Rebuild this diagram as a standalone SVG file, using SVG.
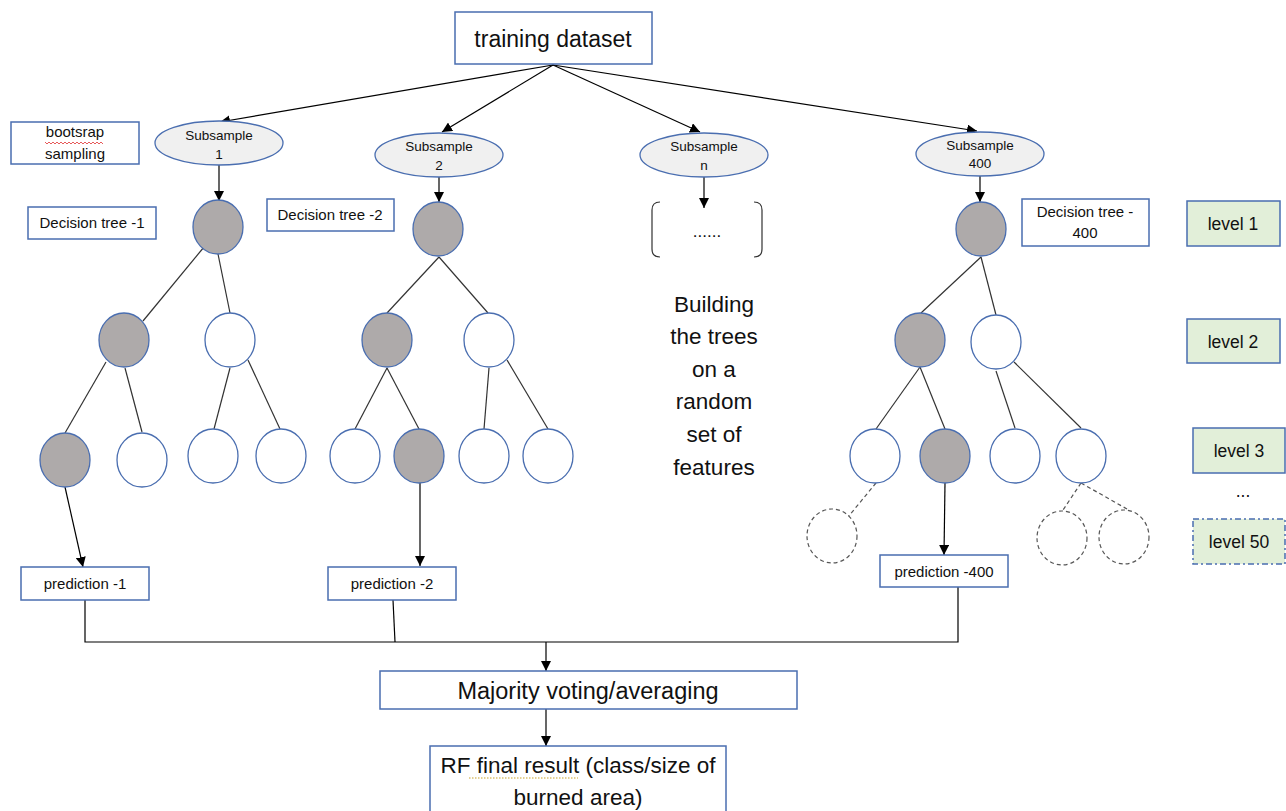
<svg xmlns="http://www.w3.org/2000/svg" width="1286" height="811" viewBox="0 0 1286 811">
<defs>
<marker id="ah" viewBox="0 0 10 10" refX="10" refY="5" markerWidth="10" markerHeight="10" markerUnits="userSpaceOnUse" orient="auto">
<path d="M0,0 L10,5 L0,10 z" fill="#000"/>
</marker>
<style>
.box{fill:#fff;stroke:#4a6eb0;stroke-width:1.5}
.lvl{fill:#e2efd9;stroke:#4a6eb0;stroke-width:1.5}
.sub{fill:#f0f0f0;stroke:#4a6eb0;stroke-width:1.3}
.g{fill:#aeaaaa;stroke:#4a6eb0;stroke-width:1.3}
.w{fill:#fff;stroke:#4a6eb0;stroke-width:1.3}
.d{fill:#fff;stroke:#555;stroke-width:1.2;stroke-dasharray:4 3}
.e{stroke:#333;stroke-width:1.2;fill:none}
.ed{stroke:#555;stroke-width:1.2;fill:none;stroke-dasharray:4 3}
.a{stroke:#000;stroke-width:1.2;fill:none;marker-end:url(#ah)}
.l{stroke:#000;stroke-width:1.2;fill:none}
text{font-family:"Liberation Sans",Arial,sans-serif;fill:#111;text-anchor:middle}
.t13{font-size:13.5px}.t15{font-size:15px}.t17{font-size:17.5px}.t22{font-size:22.5px}
</style>
</defs>

<g id="connectors">
<line class="a" x1="553" y1="65" x2="220" y2="122"/>
<line class="a" x1="553" y1="65" x2="442" y2="132"/>
<line class="a" x1="553" y1="65" x2="700" y2="132"/>
<line class="a" x1="553" y1="65" x2="977" y2="131"/>
<line class="a" x1="219" y1="165" x2="219" y2="201"/>
<line class="a" x1="439" y1="177" x2="439" y2="202"/>
<line class="a" x1="704" y1="177" x2="704" y2="208"/>
<line class="a" x1="980" y1="176" x2="980" y2="202"/>
<!-- tree 1 -->
<line class="e" x1="204" y1="247" x2="143" y2="321"/>
<line class="e" x1="218" y1="254" x2="230" y2="313"/>
<line class="e" x1="106" y1="362" x2="65" y2="433"/>
<line class="e" x1="125" y1="368" x2="142" y2="432"/>
<line class="e" x1="230" y1="368" x2="214" y2="429"/>
<line class="e" x1="248" y1="360" x2="280" y2="429"/>
<line class="a" x1="65" y1="487" x2="83" y2="567"/>
<!-- tree 2 -->
<line class="e" x1="439" y1="257" x2="387" y2="313"/>
<line class="e" x1="439" y1="257" x2="488" y2="313"/>
<line class="e" x1="387" y1="368" x2="355" y2="429"/>
<line class="e" x1="387" y1="368" x2="419" y2="429"/>
<line class="e" x1="489" y1="368" x2="484" y2="429"/>
<line class="e" x1="507" y1="360" x2="548" y2="429"/>
<line class="a" x1="420" y1="483" x2="420" y2="566"/>
<!-- tree 400 -->
<line class="e" x1="981" y1="257" x2="921" y2="313"/>
<line class="e" x1="981" y1="257" x2="996" y2="315"/>
<line class="e" x1="920" y1="367" x2="876" y2="429"/>
<line class="e" x1="920" y1="367" x2="945" y2="429"/>
<line class="e" x1="996" y1="371" x2="1015" y2="428"/>
<line class="e" x1="1014" y1="362" x2="1081" y2="428"/>
<line class="ed" x1="876" y1="483" x2="848" y2="517"/>
<line class="ed" x1="1081" y1="483" x2="1063" y2="510"/>
<line class="ed" x1="1081" y1="483" x2="1127" y2="509"/>
<line class="a" x1="945" y1="483" x2="944" y2="555"/>
<!-- aggregation -->
<polyline class="l" points="85,600 85,642 958,642 958,587"/>
<line class="l" x1="393" y1="600" x2="395" y2="642"/>
<line class="a" x1="546" y1="642" x2="546" y2="671"/>
<line class="a" x1="546" y1="709" x2="546" y2="746"/>
</g>

<g id="training-dataset">
<rect class="box" x="455" y="12" width="197" height="52"/>
<text x="553" y="47" style="font-size:23px">training dataset</text>
</g>

<g id="bootstrap-label">
<rect class="box" x="11" y="122" width="128" height="42"/>
<text class="t15" x="75" y="137">bootsrap</text>
<path d="M45,142 l2,2 l2,-2 l2,2 l2,-2 l2,2 l2,-2 l2,2 l2,-2 l2,2 l2,-2 l2,2 l2,-2 l2,2 l2,-2 l2,2 l2,-2 l2,2 l2,-2 l2,2 l2,-2 l2,2 l2,-2 l2,2 l2,-2 l2,2 l2,-2 l2,2 l2,-2 l2,2" fill="none" stroke="#e03030" stroke-width="0.8"/>
<text class="t15" x="75" y="159">sampling</text>
</g>

<g id="subsample-1">
<ellipse class="sub" cx="219" cy="143" rx="64" ry="22"/>
<text class="t13" x="219" y="140">Subsample</text>
<text class="t13" x="219" y="159">1</text>
</g>
<g id="subsample-2">
<ellipse class="sub" cx="439" cy="155" rx="64" ry="22"/>
<text class="t13" x="439" y="151">Subsample</text>
<text class="t13" x="439" y="170">2</text>
</g>
<g id="subsample-n">
<ellipse class="sub" cx="704" cy="155" rx="64" ry="22"/>
<text class="t13" x="704" y="151">Subsample</text>
<text class="t13" x="704" y="170">n</text>
</g>
<g id="subsample-400">
<ellipse class="sub" cx="980" cy="154" rx="64" ry="22"/>
<text class="t13" x="980" y="150">Subsample</text>
<text class="t13" x="980" y="168">400</text>
</g>

<g id="label-tree-1">
<rect class="box" x="28" y="207" width="128" height="32"/>
<text class="t15" x="92" y="228">Decision tree -1</text>
</g>
<g id="label-tree-2">
<rect class="box" x="267" y="199" width="127" height="32"/>
<text class="t15" x="330" y="220">Decision tree -2</text>
</g>
<g id="label-tree-400">
<rect class="box" x="1022" y="199" width="127" height="47"/>
<text class="t15" x="1085" y="217">Decision tree -</text>
<text class="t15" x="1085" y="238">400</text>
</g>

<g id="tree-1">
<ellipse class="g" cx="218" cy="227" rx="25" ry="27"/>
<ellipse class="g" cx="124" cy="340" rx="25" ry="27"/>
<ellipse class="w" cx="230" cy="340" rx="25" ry="27"/>
<ellipse class="g" cx="65" cy="460" rx="25" ry="27"/>
<ellipse class="w" cx="142" cy="460" rx="25" ry="27"/>
<ellipse class="w" cx="213" cy="456" rx="25" ry="27"/>
<ellipse class="w" cx="281" cy="456" rx="25" ry="27"/>
</g>
<g id="tree-2">
<ellipse class="g" cx="438" cy="229" rx="25" ry="27"/>
<ellipse class="g" cx="387" cy="340" rx="25" ry="27"/>
<ellipse class="w" cx="489" cy="340" rx="25" ry="27"/>
<ellipse class="w" cx="355" cy="456" rx="25" ry="27"/>
<ellipse class="g" cx="419" cy="456" rx="25" ry="27"/>
<ellipse class="w" cx="484" cy="456" rx="25" ry="27"/>
<ellipse class="w" cx="548" cy="456" rx="25" ry="27"/>
</g>
<g id="tree-400">
<ellipse class="g" cx="981" cy="229" rx="25" ry="27"/>
<ellipse class="g" cx="920" cy="340" rx="25" ry="27"/>
<ellipse class="w" cx="996" cy="342" rx="25" ry="27"/>
<ellipse class="w" cx="875" cy="456" rx="25" ry="27"/>
<ellipse class="g" cx="945" cy="456" rx="25" ry="27"/>
<ellipse class="w" cx="1015" cy="456" rx="25" ry="27"/>
<ellipse class="w" cx="1081" cy="456" rx="25" ry="27"/>
<ellipse class="d" cx="832" cy="536" rx="25" ry="27"/>
<ellipse class="d" cx="1062" cy="538" rx="25" ry="27"/>
<ellipse class="d" cx="1124" cy="537" rx="25" ry="27"/>
</g>

<g id="tree-n">
<path class="e" d="M660,202 Q652,202 652,210 L652,249 Q652,257 660,257"/>
<path class="e" d="M754,202 Q762,202 762,210 L762,249 Q762,257 754,257"/>
<text x="707" y="237" style="font-size:17px">......</text>
</g>

<g id="building-note">
<text class="t22" x="714" y="312">Building</text>
<text class="t22" x="714" y="344">the trees</text>
<text class="t22" x="714" y="377">on a</text>
<text class="t22" x="714" y="409">random</text>
<text class="t22" x="714" y="442">set of</text>
<text class="t22" x="714" y="475">features</text>
</g>

<g id="levels">
<rect class="lvl" x="1187" y="201" width="93" height="45"/>
<text class="t17" x="1233" y="230">level 1</text>
<rect class="lvl" x="1187" y="319" width="93" height="44"/>
<text class="t17" x="1233" y="348">level 2</text>
<rect class="lvl" x="1193" y="428" width="92" height="45"/>
<text class="t17" x="1239" y="457">level 3</text>
<text class="t17" x="1243" y="497">...</text>
<rect class="lvl" x="1193" y="519" width="92" height="45" style="stroke-dasharray:6 3 2 3"/>
<text class="t17" x="1239" y="548">level 50</text>
</g>

<g id="prediction-1">
<rect class="box" x="21" y="567" width="128" height="33"/>
<text class="t15" x="85" y="589">prediction -1</text>
</g>
<g id="prediction-2">
<rect class="box" x="328" y="567" width="128" height="33"/>
<text class="t15" x="392" y="589">prediction -2</text>
</g>
<g id="prediction-400">
<rect class="box" x="880" y="555" width="128" height="32"/>
<text class="t15" x="944" y="577">prediction -400</text>
</g>

<g id="majority-voting">
<rect class="box" x="380" y="671" width="417" height="38"/>
<text x="588" y="699" style="font-size:23.5px">Majority voting/averaging</text>
</g>

<g id="final-result">
<rect class="box" x="430" y="746" width="296" height="70"/>
<text x="578" y="773" style="font-size:22.5px">RF final result (class/size of</text>
<line x1="469" y1="778" x2="578" y2="778" stroke="#c9a227" stroke-width="1.2" stroke-dasharray="1.5 1.5"/>
<text x="578" y="805" style="font-size:22.5px">burned area)</text>
</g>
</svg>
